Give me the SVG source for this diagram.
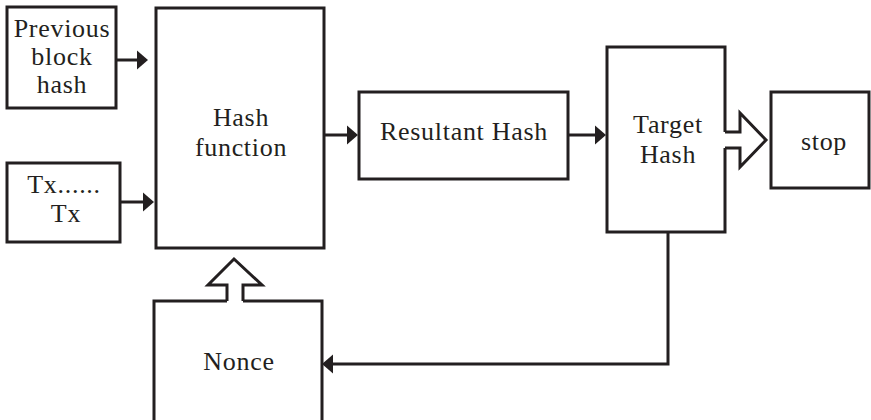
<svg xmlns="http://www.w3.org/2000/svg" width="871" height="420" viewBox="0 0 871 420">
<style>
.box{fill:none;stroke:#231f20;stroke-width:3}
.ln{fill:none;stroke:#231f20;stroke-width:3}
.hol{fill:#fff;stroke:#231f20;stroke-width:3;stroke-linejoin:miter}
.t{font-family:"Liberation Serif","Times New Roman",serif;font-size:26px;letter-spacing:0.7px;fill:#231f20;text-anchor:middle}
</style>
<defs>
<marker id="ah" markerUnits="userSpaceOnUse" markerWidth="12" markerHeight="20" refX="0" refY="9.5" orient="auto" overflow="visible">
<path d="M0,0 L11,9.5 L0,19 z" fill="#231f20"/>
</marker>
</defs>
<rect width="871" height="420" fill="#fff"/>
<g id="prev">
<rect class="box" x="7" y="7" width="109" height="101"/>
<text class="t" x="62" y="37">Previous</text>
<text class="t" x="62" y="65">block</text>
<text class="t" x="62" y="93">hash</text>
</g>
<g id="tx">
<rect class="box" x="7" y="163" width="113" height="79"/>
<text class="t" x="64" y="193">Tx......</text>
<text class="t" x="66" y="222">Tx</text>
</g>
<g id="hashfn">
<rect class="box" x="156" y="8" width="168" height="240"/>
<text class="t" x="241" y="126">Hash</text>
<text class="t" x="241" y="156">function</text>
</g>
<g id="resultant">
<rect class="box" x="359" y="92" width="209" height="87"/>
<text class="t" x="464" y="140">Resultant Hash</text>
</g>
<g id="target">
<path class="box" d="M725,132 V47 H607 V232 H725 V148"/>
<text class="t" x="668" y="133">Target</text>
<text class="t" x="668" y="163">Hash</text>
</g>
<g id="stop">
<rect class="box" x="771" y="92" width="98" height="96"/>
<text class="t" x="824" y="150">stop</text>
</g>
<g id="nonce">
<path class="box" d="M227,301 H154 V425 M243,301 H322 V425"/>
<text class="t" x="239" y="370">Nonce</text>
</g>
<g id="connectors">
<line class="ln" x1="116" y1="60" x2="137" y2="60" marker-end="url(#ah)"/>
<line class="ln" x1="120" y1="202" x2="143" y2="202" marker-end="url(#ah)"/>
<line class="ln" x1="324" y1="135" x2="347" y2="135" marker-end="url(#ah)"/>
<line class="ln" x1="568" y1="135" x2="595" y2="135" marker-end="url(#ah)"/>
<polyline class="ln" points="668,232 668,364 333,364" marker-end="url(#ah)"/>
<path class="hol" d="M725,132 H740 V113 L766,140 L740,167 V148 H725"/>
<path class="hol" d="M227,301 V285 H208 L234,259 L262,285 H243 V301"/>
</g>
</svg>
